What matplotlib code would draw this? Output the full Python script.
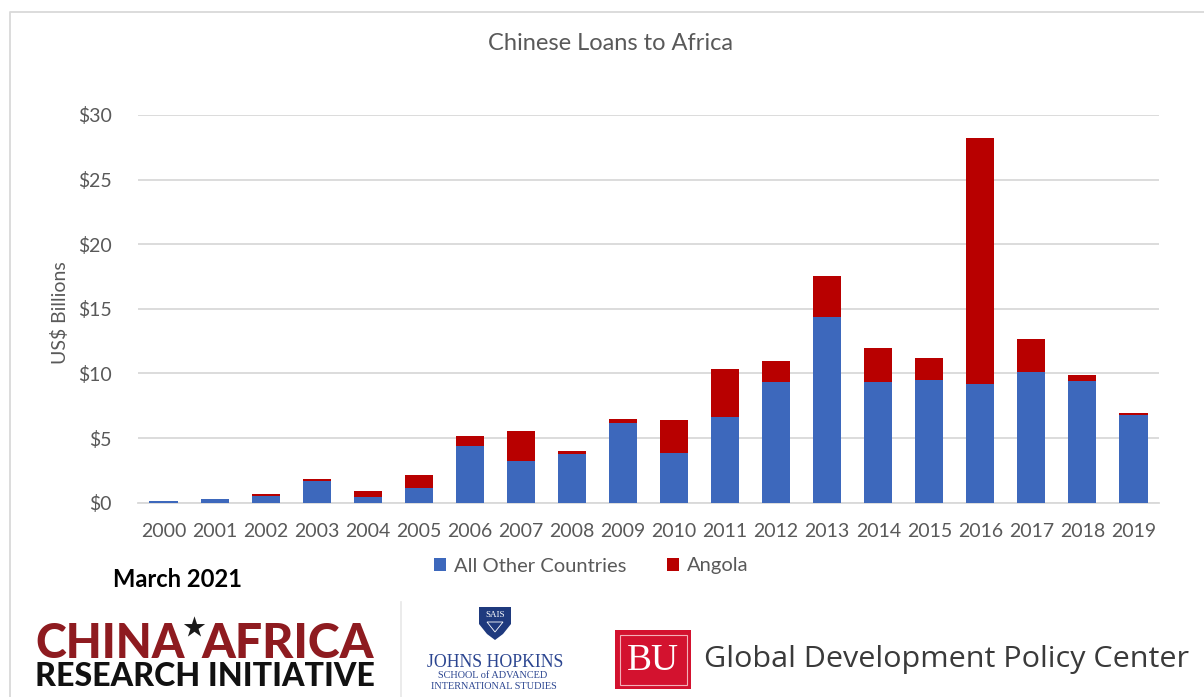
import matplotlib
matplotlib.use("Agg")
import matplotlib.pyplot as plt
from matplotlib.patches import Rectangle, Polygon
from matplotlib.lines import Line2D
import numpy as np

years = ["2000", "2001", "2002", "2003", "2004", "2005", "2006", "2007", "2008", "2009",
         "2010", "2011", "2012", "2013", "2014", "2015", "2016", "2017", "2018", "2019"]
other_countries = [0.15, 0.27, 0.55, 1.67, 0.45, 1.12, 4.41, 3.23, 3.73, 6.15,
                   3.83, 6.62, 9.35, 14.36, 9.35, 9.50, 9.22, 10.15, 9.43, 6.82]
angola = [0.00, 0.00, 0.15, 0.13, 0.46, 1.02, 0.75, 2.29, 0.25, 0.31,
          2.58, 3.76, 1.63, 3.20, 2.61, 1.73, 19.03, 2.53, 0.44, 0.15]
y_ticks = [0, 5, 10, 15, 20, 25, 30]
y_tick_labels = ["$0", "$5", "$10", "$15", "$20", "$25", "$30"]
series_names = ["All Other Countries", "Angola"]
title = "Chinese Loans to Africa"
y_label = "US$ Billions"

W, H = 1204, 697
BLUE = "#3D68BC"
RED = "#B80000"
GRAY_TXT = "#595959"
GRID = "#D9D9D9"
FONT = ["Lato", "DejaVu Sans"]

fig = plt.figure(figsize=(W / 100, H / 100), dpi=100)
fig.patch.set_facecolor("white")

# overlay axes in pixel coordinates (y downward)
ov = fig.add_axes([0, 0, 1, 1], zorder=0)
ov.set_xlim(0, W)
ov.set_ylim(H, 0)
ov.axis("off")

# main chart axes
x0, x1, ytop, ybot = 138, 1159, 115, 502.7
ax = fig.add_axes([x0 / W, 1 - ybot / H, (x1 - x0) / W, (ybot - ytop) / H], zorder=2)
ax.patch.set_alpha(0)
x = np.arange(len(years))
b1 = ax.bar(x, other_countries, width=0.55, color=BLUE, label=series_names[0], zorder=3)
b2 = ax.bar(x, angola, width=0.55, bottom=other_countries, color=RED, label=series_names[1], zorder=3)
ax.set_xlim(-0.5, len(years) - 0.5)
ax.set_ylim(0, 30)
ax.set_yticks(y_ticks)
ax.set_yticklabels(y_tick_labels)
ax.set_xticks(x)
ax.set_xticklabels(years)
ax.yaxis.grid(True, color=GRID, linewidth=1.3, zorder=0)
ax.set_axisbelow(True)
for s in ["top", "right", "left"]:
    ax.spines[s].set_visible(False)
ax.spines["bottom"].set_color(GRID)
ax.spines["bottom"].set_linewidth(1.3)
ax.tick_params(axis="both", length=0, labelsize=14, labelcolor=GRAY_TXT)
ax.tick_params(axis="y", pad=19)
ax.tick_params(axis="x", pad=14.5)
for lab in ax.get_xticklabels() + ax.get_yticklabels():
    lab.set_family(FONT)

# title and y-label
ov.text(610, 43, title, ha="center", va="center", fontsize=17, color=GRAY_TXT, family=FONT)
ov.text(60, 313, y_label, ha="center", va="center", rotation=90, fontsize=14,
        color=GRAY_TXT, family=FONT)

# legend
leg = fig.legend(handles=[b1, b2], labels=series_names, loc="center",
                 bbox_to_anchor=(591 / W, 1 - 566 / H), ncol=2, frameon=False,
                 handlelength=0.6, handleheight=0.6, handletextpad=0.4,
                 columnspacing=2.0, prop={"family": FONT, "size": 14.5})
for t in leg.get_texts():
    t.set_color(GRAY_TXT)

# frame
ov.add_line(Line2D([9.5, 9.5, W], [H, 11.5, 11.5], color=GRID, lw=1.3))
# separator
ov.add_line(Line2D([401, 401], [602, H], color="#E8E8E8", lw=1.2))

renderer = fig.canvas.get_renderer()


def fit(xp, yp, s, width, ha="left", va="baseline", **kw):
    t = ov.text(xp, yp, s, ha=ha, va=va, fontsize=20, **kw)
    w = t.get_window_extent(renderer).width
    t.set_fontsize(20 * width / w)
    return t


fit(113, 587, "March 2021", 129, family=FONT, weight="bold", color="black")

# CHINA*AFRICA logo
CARI_RED = "#8E1B20"
fit(35, 658, "CHINA", 150, family=FONT, weight="black", color=CARI_RED)
fit(201, 658, "AFRICA", 173, family=FONT, weight="black", color=CARI_RED)
ov.scatter([194], [627], marker="*", s=260, color="#1a1a1a", zorder=5, linewidths=0)
fit(35, 686, "RESEARCH INITIATIVE", 339, family=FONT, weight="black", color="#111111")

# Johns Hopkins SAIS logo
JHU = "#2B4590"
shield = Polygon([[479, 607], [511, 607], [511, 624], [503, 634], [495, 640],
                  [487, 634], [479, 624]], closed=True, fc="#1F3A7E", ec="none")
ov.add_patch(shield)
ov.text(495, 615, "SAIS", ha="center", va="center", fontsize=6.5, color="white",
        family=["Liberation Serif"])
ov.add_patch(Polygon([[487, 622], [503, 622], [495, 632]], closed=True, fc="none",
                     ec="white", lw=0.6))
fit(427, 667, "JOHNS HOPKINS", 137, family=["Liberation Serif"], color=JHU)
fit(438, 678, "SCHOOL of ADVANCED", 110, family=["Liberation Serif"], color=JHU)
fit(431, 689, "INTERNATIONAL STUDIES", 126, family=["Liberation Serif"], color=JHU)

# BU logo
ov.add_patch(Rectangle((615, 630), 76, 59, fc="#D3122F", ec="none"))
ov.add_patch(Rectangle((619.5, 634.5), 67, 50, fc="none", ec="#F3B0B8", lw=0.8))
ov.text(653, 661, "BU", ha="center", va="center", fontsize=27, color="white",
        family=["Liberation Serif"])
fit(704, 667, "Global Development Policy Center", 483, family=["Open Sans", "DejaVu Sans"],
    color="#3A3A3A")

fig.savefig("out.png", dpi=100, facecolor="white")
